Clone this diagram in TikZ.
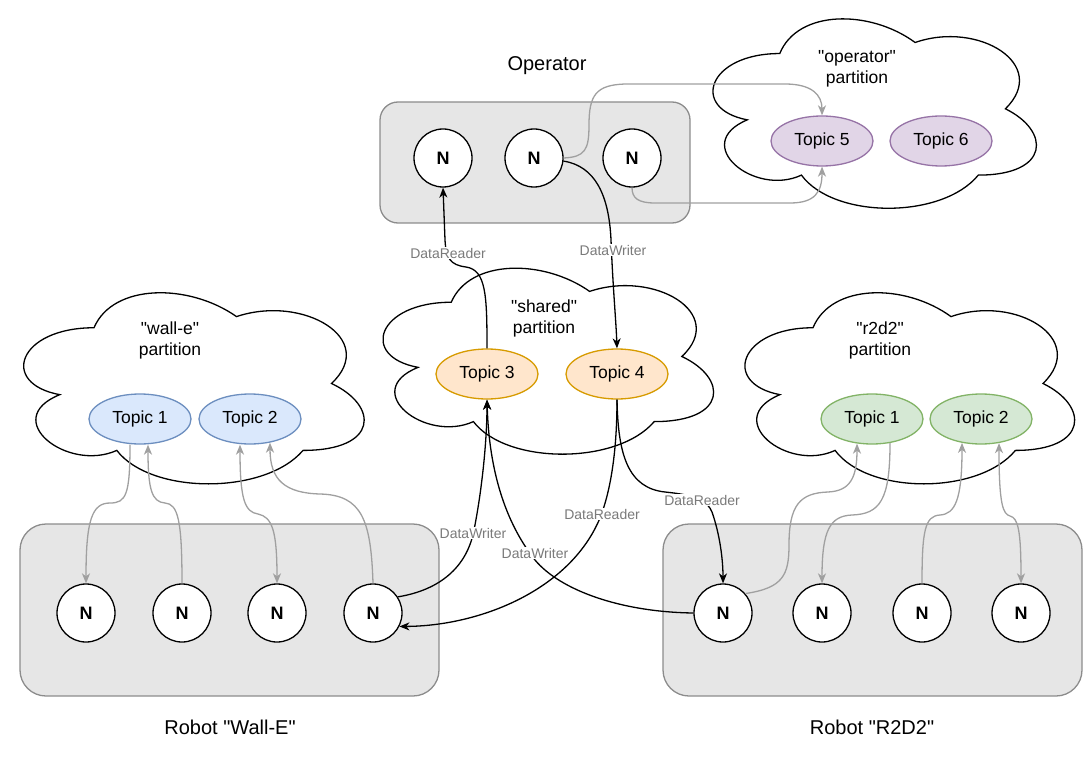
\documentclass[tikz,border=0pt]{standalone}
\usepackage{fontspec}
\setmainfont{Liberation Sans}[Ligatures=TeXOff]
\usetikzlibrary{arrows.meta,shapes.geometric}
\definecolor{boxfill}{HTML}{E6E6E6}
\definecolor{boxline}{HTML}{8C8C8C}
\definecolor{grayline}{HTML}{A0A0A0}
\definecolor{lblcol}{HTML}{7A7A7A}
\definecolor{bluef}{HTML}{DAE8FC}\definecolor{bluel}{HTML}{6C8EBF}
\definecolor{greenf}{HTML}{D5E8D4}\definecolor{greenl}{HTML}{82B366}
\definecolor{orangef}{HTML}{FFE6CC}\definecolor{orangel}{HTML}{D79B00}
\definecolor{purplef}{HTML}{E1D5E7}\definecolor{purplel}{HTML}{9673A6}
\newcommand\dq{\symbol{34}}
\tikzset{
  robotbox/.style={draw=boxline, fill=boxfill, line width=1.3pt, rounded corners=#1},
  cloudline/.style={draw=black, fill=white, line width=1.3pt},
  nnode/.style={circle, draw=black, fill=white, line width=1.3pt, minimum size=58pt, inner sep=0pt,
    font=\fontsize{18pt}{21pt}\selectfont\bfseries},
  topic/.style={ellipse, line width=1.3pt, minimum width=102pt, minimum height=50pt, inner sep=0pt,
    font=\fontsize{17.5pt}{21pt}\selectfont},
  bluet/.style={topic, draw=bluel, fill=bluef},
  greent/.style={topic, draw=greenl, fill=greenf},
  oranget/.style={topic, draw=orangel, fill=orangef},
  purplet/.style={topic, draw=purplel, fill=purplef},
  ptext/.style={align=center, font=\fontsize{17.5pt}{21pt}\selectfont},
  title/.style={font=\fontsize{20pt}{24pt}\selectfont},
  bline/.style={draw=black, line width=1.3pt, -{Stealth[length=10pt,width=8pt,inset=3pt]}},
  gline/.style={draw=grayline, line width=1.3pt, -{Stealth[length=10pt,width=8pt,inset=3pt]}},
  gboth/.style={draw=grayline, line width=1.3pt, {Stealth[length=10pt,width=8pt,inset=3pt]}-{Stealth[length=10pt,width=8pt,inset=3pt]}},
  elabel/.style={fill=white, inner sep=1pt, text=lblcol, font=\fontsize{14pt}{16pt}\selectfont},
}
\newcommand\cloudshape[4]{%
  \begin{scope}[shift={(#1,#2)}, x=#3pt, y=-#4pt]
    \draw[cloudline] (0.25,0.25) .. controls (0.05,0.25) and (0,0.5) .. (0.16,0.55)
      .. controls (0,0.66) and (0.18,0.9) .. (0.31,0.8)
      .. controls (0.4,1) and (0.7,1) .. (0.8,0.8)
      .. controls (1,0.8) and (1,0.6) .. (0.875,0.5)
      .. controls (1,0.3) and (0.8,0.1) .. (0.625,0.2)
      .. controls (0.5,0.05) and (0.3,0.05) .. (0.25,0.25) -- cycle;
  \end{scope}}
\begin{document}
\begin{tikzpicture}[x=1pt, y=-1pt]
\useasboundingbox (0,0) rectangle (1091,767);
% boxes
\draw[robotbox=18pt] (380,102) rectangle (690,223);
\draw[robotbox=26pt] (20,524) rectangle (439,696);
\draw[robotbox=26pt] (663,524) rectangle (1082,696);
% clouds
\cloudshape{689.5}{-1.7}{361}{221}
\cloudshape{359}{248}{369}{217}
\cloudshape{-1}{272}{380}{223}
\cloudshape{721}{272}{368}{223}
% titles
\node[title] (opl) at (547,66) {Operator};
\node[title] (wel) at (230,727) {Robot \dq Wall-E\dq};
\node[title] (r2l) at (872,727) {Robot \dq R2D2\dq};
\node[ptext] (opp) at (857,69) {\dq operator\dq\\partition};
\node[ptext] (shp) at (544,318) {\dq shared\dq\\partition};
\node[ptext] (wep) at (170,340) {\dq wall-e\dq\\partition};
\node[ptext] (r2p) at (880,340) {\dq r2d2\dq\\partition};
% topics
\node[purplet] (t5) at (822,141) {Topic 5};
\node[purplet] (t6) at (941,141) {Topic 6};
\node[oranget] (t3) at (487,374) {Topic 3};
\node[oranget] (t4) at (617,374) {Topic 4};
\node[bluet] (wt1) at (140,419) {Topic 1};
\node[bluet] (wt2) at (250,419) {Topic 2};
\node[greent] (rt1) at (872,419) {Topic 1};
\node[greent] (rt2) at (981,419) {Topic 2};
% N nodes
\node[nnode] (on1) at (443,158) {N};
\node[nnode] (on2) at (534,158) {N};
\node[nnode] (on3) at (632,158) {N};
\node[nnode] (wn1) at (86,613) {N};
\node[nnode] (wn2) at (182,613) {N};
\node[nnode] (wn3) at (277,613) {N};
\node[nnode] (wn4) at (373,613) {N};
\node[nnode] (rn1) at (723,613) {N};
\node[nnode] (rn2) at (822,613) {N};
\node[nnode] (rn3) at (922,613) {N};
\node[nnode] (rn4) at (1021,613) {N};
% operator gray connectors
\draw[gline] (on2.east) .. controls (585,157) and (589,150) .. (589,125)
  .. controls (589,95) and (596,85) .. (625,84) -- (785,84)
  .. controls (812,84) and (822,95) .. (t5.north);
\draw[gline] (on3.south) .. controls (632,198) and (638,203) .. (655,203) -- (790,203)
  .. controls (815,203) and (822,192) .. (t5.south);
% black connectors
\draw[bline] (t3.north) .. controls (487,295) and (486,270) .. (466,267)
  .. controls (450,265) and (446,258) .. (445,240) -- (on1.south);
\draw[bline] (on2.-6) .. controls (595,166) and (609,195) .. (611,240)
  .. controls (613,290) and (616,320) .. (t4.north);
\draw[bline] (wn4.33) .. controls (440,590) and (467,567) .. (474,530)
  .. controls (482,490) and (487,440) .. (t3.south);
\draw[bline] (t4.south) .. controls (617,450) and (611,490) .. (600,518)
  .. controls (570,590) and (480,626) .. (wn4.-27);
\draw[bline] (rn1.west) .. controls (620,612) and (560,590) .. (535,560)
  .. controls (505,522) and (489,470) .. (t3.south);
\draw[bline] (t4.south) .. controls (618,455) and (628,488) .. (665,492)
  .. controls (695,495) and (707,500) .. (712,512)
  .. controls (720,535) and (723,560) .. (rn1.north);
% wall-e gray connectors
\draw[gline] ([xshift=-10pt]wt1.south) .. controls (130,495) and (126,503) .. (110,503)
  .. controls (92,503) and (86,520) .. (wn1.north);
\draw[gline] (wn2.north) .. controls (182,520) and (178,504) .. (165,503)
  .. controls (152,502) and (148,490) .. ([xshift=8pt]wt1.south);
\draw[gboth] ([xshift=-10pt]wt2.south) .. controls (240,500) and (245,512) .. (258,514)
  .. controls (272,517) and (277,530) .. (wn3.north);
\draw[gline] (wn4.north) .. controls (371,520) and (362,495) .. (320,494)
  .. controls (285,493) and (270,480) .. ([xshift=20pt,yshift=2pt]wt2.south);
% r2d2 gray connectors
\draw[gline] (rn1.41) .. controls (783,588) and (789,575) .. (789,545)
  .. controls (789,505) and (800,493) .. (828,492)
  .. controls (850,491) and (857,478) .. ([xshift=-15pt,yshift=1pt]rt1.south);
\draw[gline] ([xshift=18pt,yshift=1.5pt]rt1.south) .. controls (890,500) and (880,514) .. (852,515)
  .. controls (830,516) and (822,530) .. (rn2.north);
\draw[gline] (rn3.north) .. controls (922,530) and (925,516) .. (940,515)
  .. controls (955,514) and (962,500) .. ([xshift=-19pt,yshift=1.8pt]rt2.south);
\draw[gboth] ([xshift=18pt,yshift=1.5pt]rt2.south) .. controls (999,505) and (1003,514) .. (1010,516)
  .. controls (1018,518) and (1021,530) .. (rn4.north);
% edge labels
\node[elabel] (l1) at (448,253) {DataReader};
\node[elabel] (l2) at (613,250) {DataWriter};
\node[elabel] (l3) at (473,533) {DataWriter};
\node[elabel] (l4) at (602,514) {DataReader};
\node[elabel] (l5) at (535,553) {DataWriter};
\node[elabel] (l6) at (702,500) {DataReader};
\end{tikzpicture}
\end{document}
